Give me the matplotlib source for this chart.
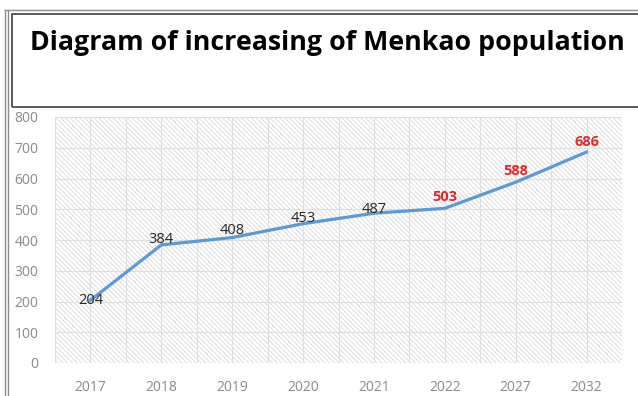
import matplotlib
matplotlib.use("Agg")
import matplotlib.pyplot as plt
from matplotlib.patches import Rectangle
from matplotlib.lines import Line2D

years = ["2017", "2018", "2019", "2020", "2021", "2022", "2027", "2032"]
population = [204, 384, 408, 453, 487, 503, 588, 686]
projected = [False, False, False, False, False, True, True, True]

# label offsets in points (dy), hand tuned to the reference
label_dy = [0, 4, 5, 4, 3, 8, 8, 7]

W, H = 638, 396
plt.rcParams["font.family"] = ["Open Sans", "DejaVu Sans"]
plt.rcParams["hatch.linewidth"] = 0.5

fig = plt.figure(figsize=(W / 100, H / 100), dpi=100)


def fx(px):
    return px / W


def fy(py):
    return 1 - py / H


# frame around the title block and left edge
fig.add_artist(Line2D([fx(5), fx(5)], [fy(10), 0], color="#8c8c8c", lw=1.0))
fig.add_artist(Line2D([fx(8), fx(8)], [fy(10), 0], color="#8c8c8c", lw=1.0))
fig.add_artist(Line2D([fx(5), 1], [fy(10), fy(10)], color="#8c8c8c", lw=1.0))
fig.add_artist(Rectangle((fx(12), fy(107)), 1 - fx(12) + 0.01, fy(14) - fy(107),
                         transform=fig.transFigure, fill=False,
                         edgecolor="#404040", lw=1.2))
fig.text(fx(30), fy(43), "Diagram of increasing of Menkao population",
         fontsize=19.3, fontweight="bold", color="black", va="center", ha="left")

left, right, top, bottom = 55, 622, 117, 363
ax = fig.add_axes([fx(left), fy(bottom), fx(right) - fx(left), fy(top) - fy(bottom)])
ax.set_facecolor("white")
ax.add_patch(Rectangle((0, 0), 1, 1, transform=ax.transAxes, facecolor="none",
                       edgecolor="#d2d2d2", hatch="\\" * 7, lw=0, zorder=0))

x = list(range(len(years)))
ax.set_xlim(-0.5, len(years) - 0.5)
ax.set_ylim(0, 800)
ax.set_yticks(range(0, 801, 100))
ax.set_xticks(x)
ax.set_xticklabels(years)
ax.set_xticks([i + 0.5 for i in range(-1, len(years))], minor=True)

for s in ax.spines.values():
    s.set_visible(False)
ax.tick_params(which="both", length=0)
ax.tick_params(axis="y", pad=12, labelsize=10, labelcolor="#8a8a8a")
ax.tick_params(axis="x", pad=12, labelsize=10, labelcolor="#8a8a8a")
ax.grid(True, which="both", color="#dedede", lw=0.8, zorder=1)
ax.set_axisbelow(True)

ax.plot(x, population, color="#5b9bd5", lw=2.3, zorder=3)

for xi, v, proj, dy in zip(x, population, projected, label_dy):
    ax.annotate(str(v), (xi, v), xytext=(0, dy), textcoords="offset points",
                ha="center", va="center", fontsize=10.5,
                color="#e8262c" if proj else "#262626",
                fontweight="bold" if proj else "normal", zorder=4)

fig.savefig("out.png", dpi=100)
